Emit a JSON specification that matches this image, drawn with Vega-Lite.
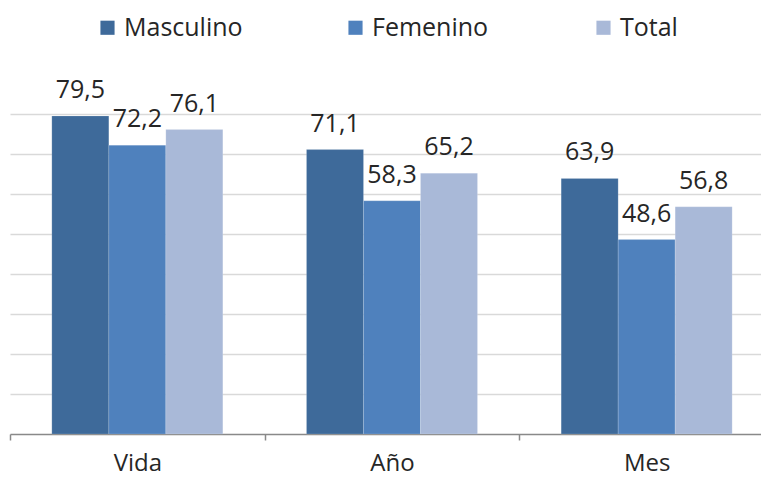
{
  "$schema": "https://vega.github.io/schema/vega-lite/v6.json",
  "autosize": "none",
  "width": 764,
  "height": 320,
  "padding": {"left": 10, "top": 114, "right": 0, "bottom": 43},
  "background": "white",
  "config": {
    "locale": {"number": {"decimal": ",", "thousands": ".", "grouping": [3], "currency": ["", " €"]}},
    "view": {"stroke": null},
    "font": "Open Sans"
  },
  "data": {
    "values": [
      {"periodo": "Vida", "sexo": "Masculino", "valor": 79.5},
      {"periodo": "Vida", "sexo": "Femenino", "valor": 72.2},
      {"periodo": "Vida", "sexo": "Total", "valor": 76.1},
      {"periodo": "Año", "sexo": "Masculino", "valor": 71.1},
      {"periodo": "Año", "sexo": "Femenino", "valor": 58.3},
      {"periodo": "Año", "sexo": "Total", "valor": 65.2},
      {"periodo": "Mes", "sexo": "Masculino", "valor": 63.9},
      {"periodo": "Mes", "sexo": "Femenino", "valor": 48.6},
      {"periodo": "Mes", "sexo": "Total", "valor": 56.8}
    ]
  },
  "encoding": {
    "x": {
      "field": "periodo", "type": "nominal", "sort": ["Vida", "Año", "Mes"],
      "scale": {"paddingInner": 0, "paddingOuter": 0},
      "axis": {
        "title": null, "labelAngle": 0, "labelFontSize": 24, "labelColor": "#262626",
        "labelPadding": 11, "domainColor": "#898989", "domainWidth": 1.5,
        "tickColor": "#898989", "tickWidth": 1.5, "tickSize": 6, "tickBand": "extent",
        "grid": false
      }
    },
    "xOffset": {"field": "sexo", "type": "nominal", "sort": ["Masculino", "Femenino", "Total"],
      "scale": {"paddingInner": 0, "paddingOuter": 0.734}},
    "y": {
      "field": "valor", "type": "quantitative",
      "scale": {"domain": [0, 80], "nice": false},
      "axis": {
        "title": null, "labels": false, "ticks": false, "domain": false,
        "grid": true, "gridColor": "#d9d9d9", "gridWidth": 1.5, "values": [10, 20, 30, 40, 50, 60, 70, 80]
      }
    }
  },
  "layer": [
    {
      "mark": {"type": "bar", "stroke": "white", "strokeWidth": 0.5, "strokeOpacity": 0.3},
      "encoding": {
        "color": {
          "field": "sexo", "type": "nominal", "sort": ["Masculino", "Femenino", "Total"],
          "scale": {"domain": ["Masculino", "Femenino", "Total"], "range": ["#3E6A9A", "#4F81BD", "#A9B9D8"]},
          "legend": {
            "title": null, "orient": "none", "direction": "horizontal",
            "legendX": 85, "legendY": -99,
            "symbolType": "square", "symbolSize": 200, "symbolStrokeWidth": 0,
            "labelFontSize": 25, "labelColor": "#262626", "labelOffset": 4,
            "gridAlign": "all", "columnPadding": 100
          }
        }
      }
    },
    {
      "mark": {"type": "text", "baseline": "bottom", "dy": -13, "fontSize": 25, "color": "#262626"},
      "encoding": {
        "text": {"field": "valor", "type": "quantitative", "format": ".1f"}
      }
    }
  ]
}
